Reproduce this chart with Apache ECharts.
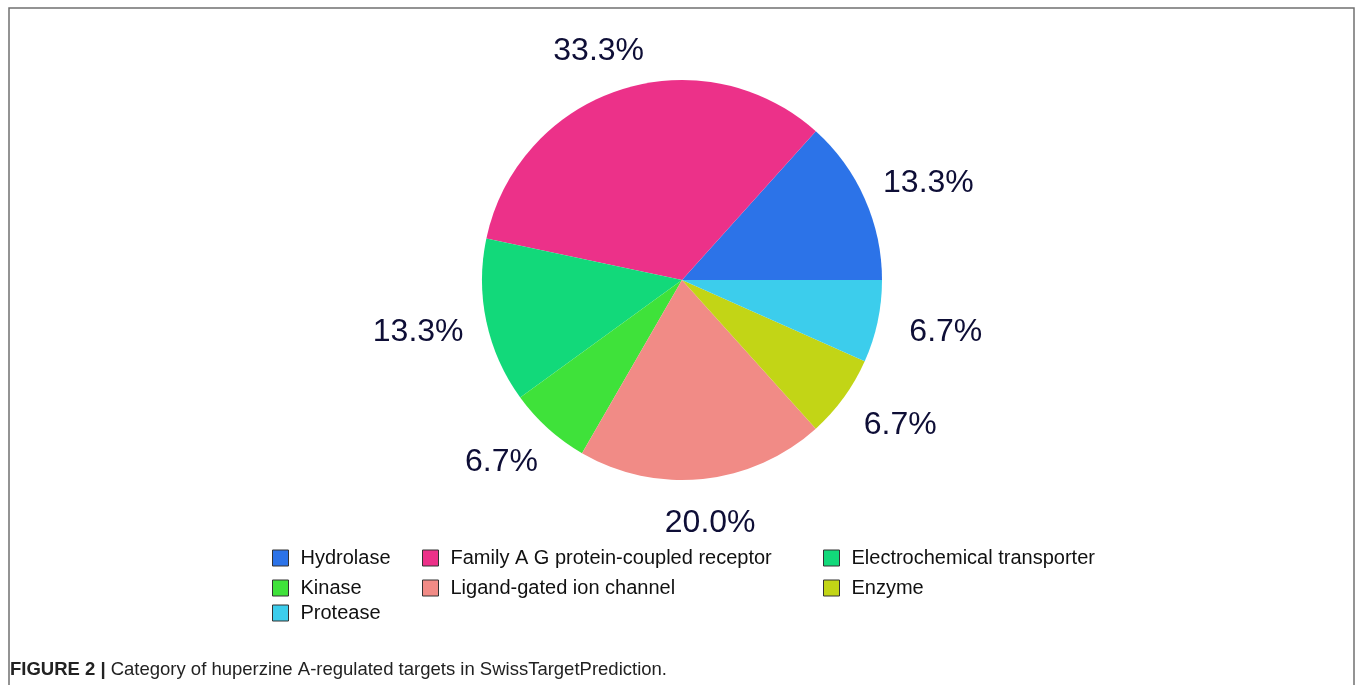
<!DOCTYPE html>
<html>
<head>
<meta charset="utf-8">
<script src="https://cdn.jsdelivr.net/npm/echarts@6/dist/echarts.min.js"></script>
<style>
  html, body { margin: 0; padding: 0; background: #fff; }
  #chart { width: 1355px; height: 685px; }
</style>
</head>
<body>
<div id="chart"></div>
<script>
// target categories and their counts (15 targets total)
const categories = [
  'Hydrolase',
  'Family A G protein-coupled receptor',
  'Electrochemical transporter',
  'Kinase',
  'Ligand-gated ion channel',
  'Enzyme',
  'Protease'
];
const counts = [2, 5, 2, 1, 3, 1, 1];
const colors = ['#2c73e8', '#ec3189', '#12d97a', '#3fe23a', '#f18b86', '#c2d516', '#3ccdec'];

const caption = 'Category of huperzine A-regulated targets in SwissTargetPrediction.';

const CX = 682, CY = 280;
const pieData = categories.map((name, i) => ({ name, value: counts[i], itemStyle: { color: colors[i] } }));

const chart = echarts.init(document.getElementById('chart'));

const legendText = { fontFamily: 'Arial, "Liberation Sans", sans-serif', fontSize: 20, color: '#111', padding: [0, 0, 0, 7] };
function legendAt(left, top, names) {
  return {
    orient: 'vertical', left, top, itemWidth: 16, itemHeight: 16, itemGap: 10,
    icon: 'rect', data: names, selectedMode: false,
    itemStyle: { borderColor: '#333', borderWidth: 1 },
    textStyle: legendText,
  };
}

chart.setOption({
  animation: false,
  title: {
    left: 5, top: 655,
    text: '{b|FIGURE 2 |} {n|' + caption + '}',
    textStyle: {
      rich: {
        b: { fontFamily: 'Arial, sans-serif', fontWeight: 'bold', fontSize: 18.5, color: '#222' },
        n: { fontFamily: 'Arial, sans-serif', fontWeight: 'normal', fontSize: 18.5, color: '#222' },
      },
    },
  },
  graphic: [{
    type: 'rect', silent: true,
    shape: { x: 9, y: 8, width: 1345, height: 720 },
    style: { fill: 'none', stroke: '#707070', lineWidth: 1.5 },
  }],
  legend: [
    legendAt(267, 543, [categories[0], categories[3]]),
    legendAt(267, 598, [categories[6]]),
    legendAt(417, 543, [categories[1], categories[4]]),
    legendAt(818, 543, [categories[2], categories[5]]),
  ],
  series: [
    {
      type: 'pie', center: [CX, CY], radius: 200,
      startAngle: 0, clockwise: false,
      label: { show: false }, labelLine: { show: false },
      data: pieData,
    },
    {
      // transparent ring used only to place the percentage labels
      type: 'pie', center: [CX, CY + 2], radius: [0, 480],
      startAngle: 0, clockwise: false, silent: true,
      itemStyle: { color: 'rgba(0,0,0,0)' },
      label: {
        show: true, position: 'inside',
        formatter: p => p.percent.toFixed(1) + '%',
        fontFamily: 'Arial, "Liberation Sans", sans-serif',
        fontSize: 32, color: '#0e0e36',
      },
      // stretch label ring horizontally (ellipse 270 x 240)
      labelLayout: p => {
        const mx = p.labelRect.x + p.labelRect.width / 2;
        return { x: CX + (mx - CX) * 1.11 };
      },
      labelLine: { show: false },
      data: categories.map((name, i) => ({ name, value: counts[i], itemStyle: { color: 'rgba(0,0,0,0)' } })),
    },
  ],
});
</script>
</body>
</html>
